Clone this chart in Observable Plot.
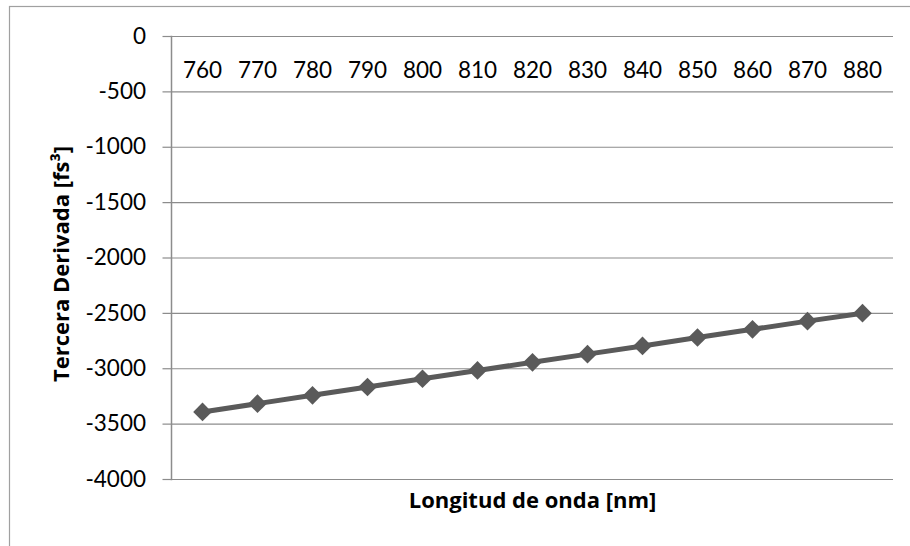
<!DOCTYPE html>
<html>
<head>
<meta charset="utf-8">
<script src="https://cdn.jsdelivr.net/npm/d3@7"></script>
<script src="https://cdn.jsdelivr.net/npm/@observablehq/plot@0.6"></script>
<style>
  html, body { margin: 0; padding: 0; background: #fff; }
  #chart svg { display: block; }
</style>
</head>
<body>
<div id="chart"></div>
<script>
const wavelengths = [760, 770, 780, 790, 800, 810, 820, 830, 840, 850, 860, 870, 880];
const thirdDerivative = [-3390, -3315, -3240, -3165, -3090, -3015, -2942, -2868, -2794, -2718, -2644, -2570, -2498];
const yTicks = [0, -500, -1000, -1500, -2000, -2500, -3000, -3500, -4000];
const xTitle = "Longitud de onda [nm]";
const yTitle = "Tercera Derivada [fs³]";

const data = wavelengths.map((w, i) => ({w, v: thirdDerivative[i]}));
const gray = "#8c8c8c";
const lineColor = "#5a5a5a";
const titleFont = "'Open Sans', Lato, sans-serif";

const chart = Plot.plot({
  width: 910,
  height: 546,
  marginLeft: 171,
  marginRight: 17,
  marginTop: 36,
  marginBottom: 67,
  style: {fontFamily: "Lato, 'Open Sans', sans-serif", fontSize: "22px", color: "#000", background: "#fff"},
  x: {type: "point", domain: wavelengths, padding: 0.5},
  y: {domain: [-4000, 0]},
  marks: [
    Plot.gridY(yTicks, {stroke: gray, strokeOpacity: 1, strokeWidth: 1.2}),
    Plot.frame({anchor: "left", stroke: gray, strokeWidth: 1.5}),
    Plot.axisY(yTicks, {anchor: "left", tickSize: 8.5, tickPadding: 17, stroke: gray, strokeWidth: 1.2, tickFormat: d => String(d), label: null, fontSize: 22.5}),
    Plot.axisX(wavelengths, {anchor: "top", tickSize: 0, tickPadding: 0, dy: 41, tickFormat: d => String(d), label: null, fontSize: 22.5}),
    Plot.line(data, {x: "w", y: "v", stroke: lineColor, strokeWidth: 5}),
    Plot.dot(data, {x: "w", y: "v", symbol: "diamond2", r: 8.4, fill: lineColor, stroke: "none"}),
    Plot.text([xTitle], {text: d => d, frameAnchor: "bottom", dy: 21, fontWeight: "bold", fontSize: 22, fontFamily: titleFont, textAnchor: "middle", lineAnchor: "middle", fill: "#000"}),
    Plot.text([yTitle], {text: d => d, frameAnchor: "left", rotate: -90, dx: -110, dy: 6, fontWeight: "bold", fontSize: 22, fontFamily: titleFont, textAnchor: "middle", lineAnchor: "middle", fill: "#000"})
  ]
});

d3.select(chart).append("rect")
  .attr("x", 9.5).attr("y", 6.5)
  .attr("width", 1000).attr("height", 1000)
  .attr("fill", "none").attr("stroke", "#a0a0a0").attr("stroke-width", 1.2);

document.getElementById("chart").append(chart);
</script>
</body>
</html>
